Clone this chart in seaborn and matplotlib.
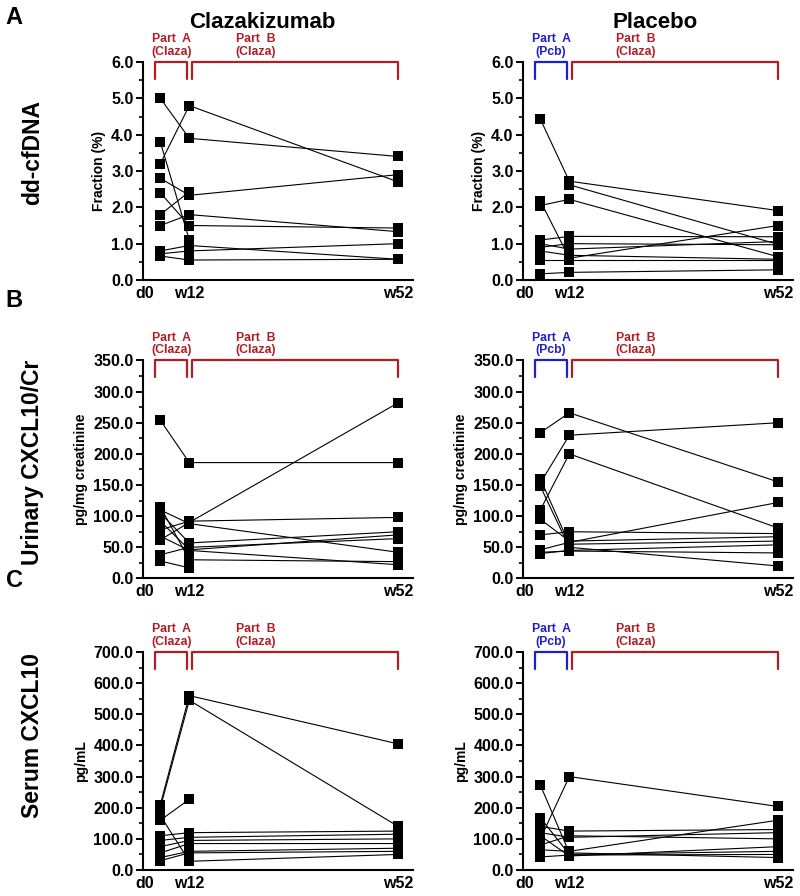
import numpy as np
import pandas as pd
import matplotlib
matplotlib.use("Agg")
import matplotlib.pyplot as plt
import matplotlib.transforms as mtransforms
from matplotlib.ticker import MultipleLocator, FormatStrFormatter
import seaborn as sns

# Time points (plotting position on the x axis) and labels
time_labels = ["d0", "w12", "w52"]
time_pos = [0, 1, 8.2]
label_pos = [-0.55, 1, 8.2]

nan = np.nan

# Row 1: dd-cfDNA fraction (%)
claza_cfdna_d0 = [5.0, 3.2, 2.8, 1.8, 3.8, 2.4, 1.5, 0.8, 0.72, 0.66]
claza_cfdna_w12 = [3.9, 4.8, 2.33, 2.43, 1.1, 1.5, 1.8, 0.95, 0.8, 0.55]
claza_cfdna_w52 = [3.4, 2.7, 2.9, nan, nan, 1.43, 1.33, 0.57, 1.0, 0.57]

pcb_cfdna_d0 = [4.43, nan, 2.05, 2.18, 1.1, 1.0, 0.9, 0.8, 0.55, 0.17]
pcb_cfdna_w12 = [2.72, 2.62, 2.22, 0.6, 1.2, 0.85, 1.0, 0.68, 0.55, 0.21]
pcb_cfdna_w52 = [1.91, 0.98, 0.64, 1.5, 1.19, 1.06, 0.97, 0.57, 0.55, 0.28]

# Row 2: urinary CXCL10/Cr (pg/mg creatinine)
claza_uri_d0 = [254, 62, 78, 110, 105, 92, 38, 115, 68, 28]
claza_uri_w12 = [186, 90, 92, 88, 57, 46, 50, 30, 45, 17]
claza_uri_w52 = [186, 282, 98, 42, 75, 70, 64, 27, 22, nan]

pcb_uri_d0 = [234, 153, 110, 160, 95, 70, 46, 40, 148, 42]
pcb_uri_w12 = [266, 230, 200, 55, 60, 75, 58, 45, 50, 44]
pcb_uri_w52 = [155, 250, 81, 60, 67, 72, 122, 54, 20, 41]

# Row 3: serum CXCL10 (pg/mL)
claza_ser_d0 = [210, 200, 160, 175, 110, 95, 75, 55, 40, 30]
claza_ser_w12 = [560, 545, 227, 28, 120, 105, 95, 85, 60, 55]
claza_ser_w52 = [405, 140, nan, 50, 125, 115, 100, 85, 70, 60]

pcb_ser_d0 = [273, 100, 168, 140, 120, 80, 65, 42, 110]
pcb_ser_w12 = [55, 300, 50, 125, 105, 110, 60, 48, 45]
pcb_ser_w52 = [40, 204, 60, 130, 120, 100, 160, 50, 75]

panels = [
    (claza_cfdna_d0, claza_cfdna_w12, claza_cfdna_w52),
    (pcb_cfdna_d0, pcb_cfdna_w12, pcb_cfdna_w52),
    (claza_uri_d0, claza_uri_w12, claza_uri_w52),
    (pcb_uri_d0, pcb_uri_w12, pcb_uri_w52),
    (claza_ser_d0, claza_ser_w12, claza_ser_w52),
    (pcb_ser_d0, pcb_ser_w12, pcb_ser_w52),
]
y_max = [6.0, 6.0, 350.0, 350.0, 700.0, 700.0]
y_major = [1.0, 1.0, 50.0, 50.0, 100.0, 100.0]
y_labels = ["Fraction (%)", "Fraction (%)", "pg/mg creatinine",
            "pg/mg creatinine", "pg/mL", "pg/mL"]
part_a_text = ["Part  A\n(Claza)", "Part  A\n(Pcb)"]

RED = "#B01E23"
BLUE = "#1F1FCF"

sns.set_style("white")
plt.rcParams["font.family"] = ["Liberation Sans", "DejaVu Sans"]
plt.rcParams["font.weight"] = "bold"
for key in ["text.color", "axes.labelcolor", "xtick.color", "ytick.color"]:
    plt.rcParams[key] = "black"

fig = plt.figure(figsize=(8, 8.96), dpi=100)

col_left = [0.179, 0.654]
row_bottom = [0.6875, 0.3544, 0.0290]
ax_w, ax_h = 0.3375, 0.2433


def long_form(d0, w12, w52):
    rows = []
    for i, vals in enumerate(zip(d0, w12, w52)):
        for t, v in zip(time_pos, vals):
            if not np.isnan(v):
                rows.append({"subject": i, "time": t, "value": v})
    return pd.DataFrame(rows)


for k, (d0, w12, w52) in enumerate(panels):
    r, c = divmod(k, 2)
    ax = fig.add_axes([col_left[c], row_bottom[r], ax_w, ax_h])
    df = long_form(d0, w12, w52)
    sns.lineplot(data=df, x="time", y="value", units="subject",
                 estimator=None, sort=False, color="black", lw=0.8,
                 marker="s", markersize=7, markeredgewidth=0,
                 markerfacecolor="black", ax=ax, legend=False)

    ax.set_xlim(-0.59, 8.72)
    ax.set_ylim(0, y_max[k])
    ax.yaxis.set_major_locator(MultipleLocator(y_major[k]))
    ax.yaxis.set_minor_locator(MultipleLocator(y_major[k] / 2))
    ax.yaxis.set_major_formatter(FormatStrFormatter("%.1f"))
    ax.set_xticks(label_pos)
    ax.set_xticklabels(time_labels)
    ax.tick_params(axis="x", length=0, pad=4, labelsize=11.5)
    ax.tick_params(axis="y", which="major", direction="out", length=5,
                   width=1.4, labelsize=11.5, left=True, pad=2)
    ax.tick_params(axis="y", which="minor", direction="out", length=3,
                   width=1.2, left=True)
    for lab in ax.get_xticklabels() + ax.get_yticklabels():
        lab.set_fontweight("bold")
    ax.set_xlabel("")
    ax.set_ylabel(y_labels[k], fontsize=10, fontweight="bold", labelpad=4)
    sns.despine(ax=ax)
    for s in ["left", "bottom"]:
        ax.spines[s].set_linewidth(1.5)
        ax.spines[s].set_color("black")

    # Treatment brackets
    trans = mtransforms.blended_transform_factory(ax.transData, ax.transAxes)
    a_color = RED if c == 0 else BLUE
    drop = 0.078
    ax.plot([-0.17, -0.17, 0.92, 0.92], [1 - drop, 1, 1, 1 - drop],
            color=a_color, lw=1.6, transform=trans, clip_on=False)
    ax.plot([1.09, 1.09, 8.2, 8.2], [1 - drop, 1, 1, 1 - drop],
            color=RED, lw=1.6, transform=trans, clip_on=False)
    ax.text(0.375, 1.02, part_a_text[c], color=a_color, fontsize=8.8,
            fontweight="bold", ha="center", va="bottom", linespacing=1.05,
            transform=trans)
    ax.text(3.3, 1.02, "Part  B\n(Claza)", color=RED, fontsize=8.8,
            fontweight="bold", ha="center", va="bottom", linespacing=1.05,
            transform=trans)

# Column titles, row labels, panel letters
fig.text(262 / 800, 1 - 22 / 896, "Clazakizumab", fontsize=16,
         fontweight="bold", ha="center", va="center")
fig.text(655 / 800, 1 - 22 / 896, "Placebo", fontsize=16,
         fontweight="bold", ha="center", va="center")
row_names = ["dd-cfDNA", "Urinary CXCL10/Cr", "Serum CXCL10"]
row_y = [152, 462, 735]
for name, yy in zip(row_names, row_y):
    fig.text(33 / 800, 1 - yy / 896, name, fontsize=16.5, fontweight="bold",
             rotation=90, ha="center", va="center")
for letter, yy in zip(["A", "B", "C"], [18, 300, 580]):
    fig.text(14 / 800, 1 - yy / 896, letter, fontsize=17, fontweight="bold",
             ha="center", va="center")

fig.savefig("out.png", dpi=100)
